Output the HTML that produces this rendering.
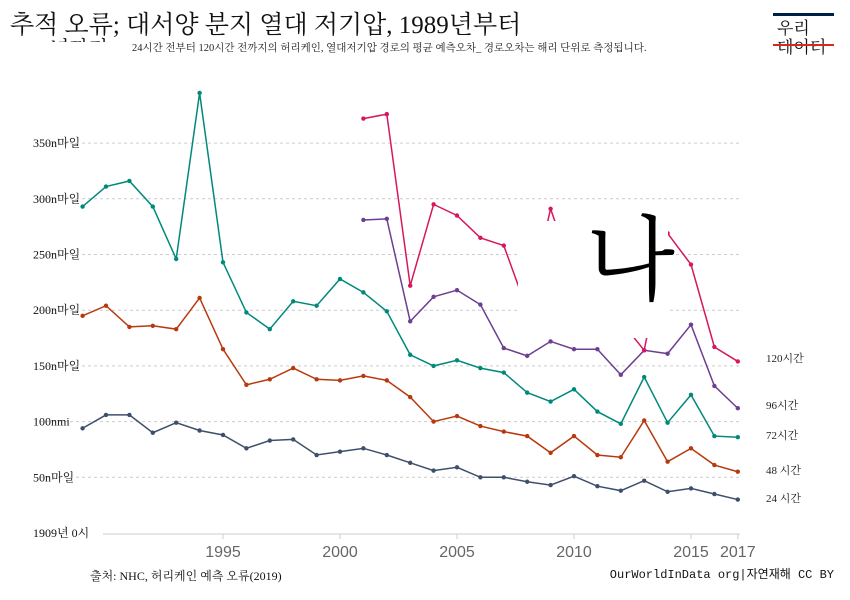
<!DOCTYPE html>
<html><head><meta charset="utf-8">
<style>
body{margin:0;background:#fff;}
svg{display:block;font-family:"Liberation Serif","Noto Serif CJK SC","Noto Sans CJK KR",serif;}
</style></head>
<body>
<svg id="chart" width="850" height="600" xmlns="http://www.w3.org/2000/svg">
<text x="10" y="33" font-size="25" fill="#111">추적 오류; 대서양 분지 열대 저기압, 1989년부터</text>
<text x="10" y="55" font-size="20" fill="#111">2017년까지</text>
<rect x="0" y="42" width="745" height="20" fill="#fff"/>
<text x="132" y="51" font-size="10.5" fill="#222">24시간 전부터 120시간 전까지의 허리케인, 열대저기압 경로의 평균 예측오차_ 경로오차는 해리 단위로 측정됩니다.</text>
<g>
<rect x="773" y="13" width="61" height="3" fill="#002147"/>
<text x="777" y="34" font-size="17" fill="#111">우리</text>
<text x="777" y="53" font-size="17" fill="#111">데이터</text>
<rect x="773" y="44" width="61" height="2" fill="#d42b21"/>
</g>
<g id="grid"></g>
<g id="series"></g>
<rect x="518" y="221" width="150" height="117" fill="#fff"/>
<text x="586" y="292" font-size="92" fill="#000" font-family="Noto Serif CJK SC, serif">나</text>
<g id="labels"></g>
<text x="90" y="580" font-size="12" fill="#111">출처: NHC, 허리케인 예측 오류(2019)</text>
<text x="834" y="578" font-size="12" fill="#111" text-anchor="end" font-family="Liberation Mono, Noto Sans CJK KR, monospace">OurWorldInData org|자연재해 CC BY</text>
</svg>
<script>
const years = [1989,1990,1991,1992,1993,1994,1995,1996,1997,1998,1999,2000,2001,2002,2003,2004,2005,2006,2007,2008,2009,2010,2011,2012,2013,2014,2015,2016,2017];
const h24 = [94,106,106,90,99,92,88,76,83,84,70,73,76,70,63,56,59,50,50,46,43,51,42,38,47,37,40,35,30];
const h48 = [195,204,185,186,183,211,165,133,138,148,138,137,141,137,122,100,105,96,91,87,72,87,70,68,101,64,76,61,55];
const h72 = [293,311,316,293,246,395,243,198,183,208,204,228,216,199,160,150,155,148,144,126,118,129,109,98,140,99,124,87,86];
const h96 = [null,null,null,null,null,null,null,null,null,null,null,null,281,282,190,212,218,205,166,159,172,165,165,142,164,161,187,132,112];
const h120 = [null,null,null,null,null,null,null,null,null,null,null,null,372,376,222,295,285,265,258,200,291,230,215,190,164,269,241,167,154];
const yTicks = [50,100,150,200,250,300,350];
const yTickLabels = ["50n마일","100nmi","150n마일","200n마일","250n마일","300n마일","350n마일"];
const xTicks = [1995,2000,2005,2010,2015,2017];
const NS="http://www.w3.org/2000/svg";
const x = yr => 82.6 + (yr-1989)*23.4;
const y = v => 533 - v*1.114;
function mk(tag, attrs, parent){const e=document.createElementNS(NS,tag);for(const k in attrs)e.setAttribute(k,attrs[k]);parent.appendChild(e);return e;}
const grid=document.getElementById('grid');
yTicks.forEach((t,i)=>{
  const l=mk('line',{x1:40,x2:740,y1:y(t),y2:y(t),stroke:'#ccc','stroke-dasharray':'3,3'},grid);
  
  
  const tx=mk('text',{x:33,y:y(t)+4,'font-size':12,fill:'#111'},grid);
  
  
  tx.textContent=yTickLabels[i];
});
const zl=mk('text',{x:33,y:y(0)+4,'font-size':12,fill:'#111'},grid);


zl.textContent='1909년 0시';
const base=mk('line',{x1:103,x2:740,y1:y(0)+1,y2:y(0)+1,stroke:'#ccc'},grid);


xTicks.forEach(t=>{
  mk('line',{x1:x(t),x2:x(t),y1:y(0)+1,y2:y(0)+6,stroke:'#ccc'},grid);
  const tx=mk('text',{x:x(t),y:557,'font-size':16,fill:'#666','text-anchor':'middle','font-family':'Liberation Sans, sans-serif'},grid);
  
  
  tx.textContent=t;
});
const seriesList=[[h24,'#3e4f6b','24 시간','series-24h'],[h48,'#b8390d','48 시간','series-48h'],[h72,'#00897b','72시간','series-72h'],[h96,'#6d3e91','96시간','series-96h'],[h120,'#d6175f','120시간','series-120h']];
const sg=document.getElementById('series'), lg=document.getElementById('labels');
seriesList.forEach(([vals,col,lab,name])=>{
  const g=mk('g',{},sg);
  
  
  let d='';
  vals.forEach((v,i)=>{if(v==null)return;d+=(d?'L':'M')+x(years[i])+','+y(v);});
  mk('path',{d:d,fill:'none',stroke:col,'stroke-width':1.5},g);
  vals.forEach((v,i)=>{if(v==null)return;
    const c=mk('circle',{cx:x(years[i]),cy:y(v),r:2.2,fill:col},g);
    
    
  });
  const last=vals[vals.length-1];
  const t=mk('text',{x:766,y:y(last)+3,'font-size':11,fill:'#222'},lg);
  
  
  t.textContent=lab;
});
const lbls=lg.querySelectorAll('text');
const ly=[498,470,435,405,358];
lbls.forEach((t,i)=>t.setAttribute('y',ly[i]+4));
</script>
</body></html>
